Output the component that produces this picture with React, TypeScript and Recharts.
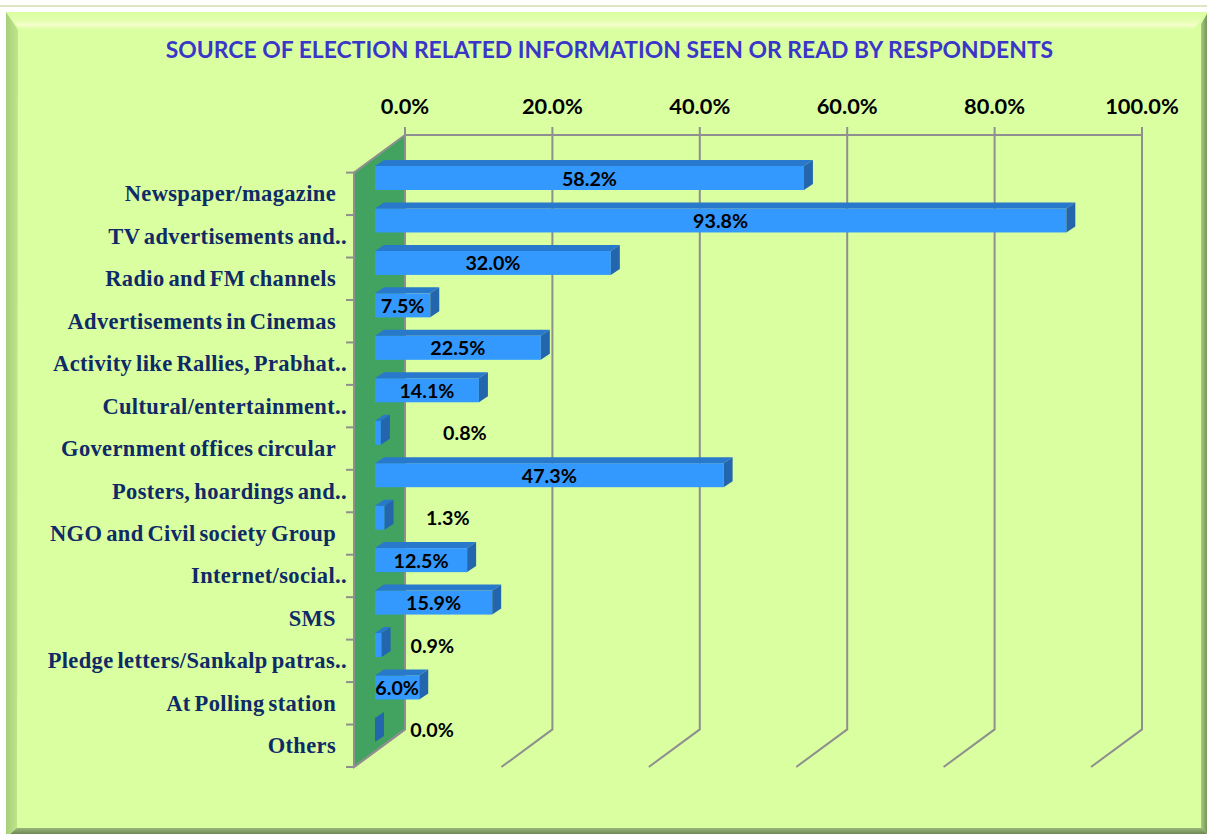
import { BarChart, Bar, XAxis, YAxis, ReferenceLine, LabelList } from "recharts";

const categories = [
  "Newspaper/magazine",
  "TV advertisements and..",
  "Radio and FM channels",
  "Advertisements in Cinemas",
  "Activity like Rallies, Prabhat..",
  "Cultural/entertainment..",
  "Government offices circular",
  "Posters, hoardings and..",
  "NGO and Civil society Group",
  "Internet/social..",
  "SMS",
  "Pledge letters/Sankalp patras..",
  "At Polling station",
  "Others",
];
const shares = [58.2, 93.8, 32.0, 7.5, 22.5, 14.1, 0.8, 47.3, 1.3, 12.5, 15.9, 0.9, 6.0, 0.0];
const axisTicks = [0, 20, 40, 60, 80, 100];

const chartData = categories.map((name, i) => ({ name, share: shares[i] }));

// sideways shift of the small values' labels, which sit clear of their bars
const labelShift: Record<string, number> = {
  "Government offices circular": 87,
  "NGO and Civil society Group": 68,
  "Pledge letters/Sankalp patras..": 54,
  Others: 57,
};

// offsets between the bar plane, the back wall and the front edge of the floor
const BACK_X = 30;
const BACK_Y = -22;
const FRONT_X = -21;
const FRONT_Y = 15.6;
const BAR_DX = 9;
const BAR_DY = -6;

const GRID = "#8f8f8f";
const LABEL_FONT = "Lato, 'Open Sans', sans-serif";

const percent = (v: number) => `${v.toFixed(1)}%`;

const Bar3D = (props: any) => {
  const { x, y, width, height } = props;
  const r = x + width;
  return (
    <g>
      <rect x={x} y={y} width={width} height={height} fill="#3399ff" />
      <polygon
        points={`${x},${y} ${x + BAR_DX},${y + BAR_DY} ${r + BAR_DX},${y + BAR_DY} ${r},${y}`}
        fill="#2878cc"
      />
      <polygon
        points={`${r},${y} ${r + BAR_DX},${y + BAR_DY} ${r + BAR_DX},${y + height + BAR_DY} ${r},${y + height}`}
        fill="#2466ad"
      />
    </g>
  );
};

// green side wall, its outline and the category tick marks
const SideWall = (props: any) => {
  const { x1, y1, y2 } = props;
  const top = Math.min(y1, y2);
  const bottom = Math.max(y1, y2);
  const backX = x1 + BACK_X;
  const frontX = x1 + FRONT_X;
  const band = (bottom - top) / categories.length;
  return (
    <g>
      <polygon
        points={`${backX},${top + BACK_Y} ${frontX},${top + FRONT_Y} ${frontX},${bottom + FRONT_Y} ${backX},${bottom + BACK_Y}`}
        fill="#41a35f"
      />
      <polyline
        points={`${backX},${top + BACK_Y} ${frontX},${top + FRONT_Y} ${frontX},${bottom + FRONT_Y} ${backX},${bottom + BACK_Y}`}
        fill="none"
        stroke={GRID}
        strokeWidth={2}
      />
      {[...categories, ""].map((_, i) => (
        <line
          key={i}
          x1={frontX - 8}
          x2={frontX}
          y1={top + FRONT_Y + band * i}
          y2={top + FRONT_Y + band * i}
          stroke={GRID}
          strokeWidth={2}
        />
      ))}
    </g>
  );
};

// gridline up the back wall, then forward across the floor
const GridLine = (props: any) => {
  const { x1, y1, y2 } = props;
  const top = Math.min(y1, y2);
  const bottom = Math.max(y1, y2);
  return (
    <polyline
      points={`${x1 + BACK_X},${top + BACK_Y - 8} ${x1 + BACK_X},${bottom + BACK_Y} ${x1 + FRONT_X},${bottom + FRONT_Y}`}
      fill="none"
      stroke={GRID}
      strokeWidth={2}
    />
  );
};

const BackTopLine = (props: any) => {
  const { x1, x2, y1 } = props;
  const top = y1 - (594.4 / categories.length) / 2 + BACK_Y;
  return <line x1={x1 + BACK_X} x2={x2 + BACK_X} y1={top} y2={top} stroke={GRID} strokeWidth={2} />;
};

const ValueTick = (props: any) => {
  const { x, payload } = props;
  return (
    <text
      x={x + BACK_X}
      y={113.5}
      textAnchor="middle"
      fontFamily={LABEL_FONT}
      fontWeight={700}
      fontSize={21.8}
      fill="#000"
    >
      {percent(payload.value)}
    </text>
  );
};

const CategoryTick = (props: any) => {
  const { y, payload } = props;
  const clipped = payload.value.endsWith("..");
  return (
    <text
      x={clipped ? 347 : 336}
      y={y + FRONT_Y + 7.5}
      textAnchor="end"
      fontFamily="'Liberation Serif', serif"
      fontWeight={700}
      fontSize={22.5}
      letterSpacing={0.35}
      wordSpacing={-2}
      fill="#0f2a66"
    >
      {payload.value}
    </text>
  );
};

const ValueLabel = (props: any) => {
  const { x, y, width, height, value, index } = props;
  const shift = labelShift[categories[index]] ?? 0;
  return (
    <text
      x={x + width / 2 + shift}
      y={y + height / 2 + 7.5}
      textAnchor="middle"
      fontFamily={LABEL_FONT}
      fontWeight={700}
      fontSize={19.7}
      fill="#000"
    >
      {percent(value)}
    </text>
  );
};

const Frame = () => (
  <svg width={1207} height={834} style={{ position: "absolute", left: 0, top: 0 }}>
    <defs>
      <linearGradient id="leftEdge" x1="0" x2="1" y1="0" y2="0">
        <stop offset="0" stopColor="#a6cf7a" />
        <stop offset="1" stopColor="#bfe68c" />
      </linearGradient>
      <linearGradient id="topEdge" x1="0" x2="0" y1="0" y2="1">
        <stop offset="0" stopColor="#d9ffa0" />
        <stop offset="0.55" stopColor="#e6ffb4" />
        <stop offset="0.7" stopColor="#f6ffcc" />
        <stop offset="1" stopColor="#d9ffa0" />
      </linearGradient>
      <linearGradient id="rightEdge" x1="0" x2="1" y1="0" y2="0">
        <stop offset="0" stopColor="#a9c886" />
        <stop offset="1" stopColor="#78955a" />
      </linearGradient>
      <linearGradient id="bottomEdge" x1="0" x2="0" y1="0" y2="1">
        <stop offset="0" stopColor="#9ab77c" />
        <stop offset="1" stopColor="#6e8752" />
      </linearGradient>
    </defs>
    <rect x={0} y={0} width={1207} height={834} fill="#fff" />
    <rect x={0} y={5} width={1207} height={2} fill="#dfe3bf" />
    <rect x={6} y={12} width={1201} height={822} fill="#d9ffa0" />
    <polygon points="6,12 1207,12 1193,30 20,30" fill="url(#topEdge)" />
    <polygon points="6,12 18,30 17,829 6,836" fill="url(#leftEdge)" />
    <polygon points="1207,14 1207,834 1201,829 1201,24" fill="url(#rightEdge)" />
    <polygon points="10,834 17,828 1201,828 1207,834" fill="url(#bottomEdge)" />
    <text
      x={609.5}
      y={58}
      textAnchor="middle"
      fontFamily={LABEL_FONT}
      fontWeight={700}
      fontSize={22.9}
      fill="#3a36c8"
    >
      SOURCE OF ELECTION RELATED INFORMATION SEEN OR READ BY RESPONDENTS
    </text>
  </svg>
);

const App = () => (
  <div style={{ position: "absolute", left: 0, top: 0, width: 1207, height: 834, overflow: "hidden" }}>
    <Frame />
    <div style={{ position: "absolute", left: 0, top: 0 }}>
      <BarChart
        width={1207}
        height={834}
        data={chartData}
        layout="vertical"
        margin={{ top: 0, right: 95, bottom: 82.6, left: 0 }}
        barCategoryGap={0}
      >
        <XAxis
          type="number"
          orientation="top"
          domain={[0, 100]}
          ticks={axisTicks}
          height={157}
          axisLine={false}
          tickLine={false}
          tick={ValueTick}
          interval={0}
        />
        <YAxis
          type="category"
          dataKey="name"
          width={375}
          axisLine={false}
          tickLine={false}
          tick={CategoryTick}
          interval={0}
        />
        <ReferenceLine x={0} shape={SideWall} zIndex={-100} />
        {axisTicks.map((t) => (
          <ReferenceLine key={t} x={t} shape={GridLine} zIndex={-100} />
        ))}
        <ReferenceLine y={categories[0]} shape={BackTopLine} zIndex={-100} />
        <Bar dataKey="share" barSize={24} shape={Bar3D} isAnimationActive={false}>
          <LabelList dataKey="share" content={ValueLabel} />
        </Bar>
      </BarChart>
    </div>
  </div>
);

export default App;
